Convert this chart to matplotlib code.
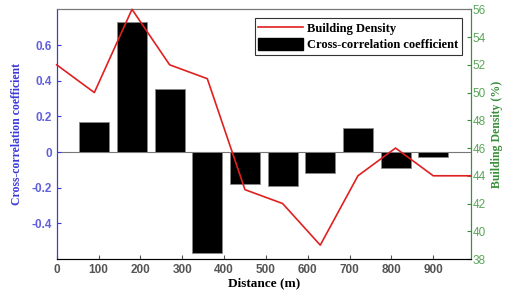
import matplotlib
matplotlib.use("Agg")
import matplotlib.pyplot as plt
from matplotlib.patches import Patch
from matplotlib.lines import Line2D

bar_x = [90, 180, 270, 360, 450, 540, 630, 720, 810, 900]
cross_corr = [0.17, 0.73, 0.355, -0.565, -0.18, -0.19, -0.115, 0.135, -0.088, -0.03]
line_x = [0, 90, 180, 270, 360, 450, 540, 630, 720, 810, 900, 990]
density = [52.0, 50.0, 56.0, 52.0, 51.0, 43.0, 42.0, 39.0, 44.0, 46.0, 44.0, 44.0]
x_ticks = [0, 100, 200, 300, 400, 500, 600, 700, 800, 900]
left_ticks = [-0.4, -0.2, 0, 0.2, 0.4, 0.6]
right_ticks = [38, 40, 42, 44, 46, 48, 50, 52, 54, 56]

blue = "#3a3ad8"
blue_tick = "#6060dd"
green = "#3a8f3a"
green_tick = "#5aa55a"

fig = plt.figure(figsize=(5.12, 2.92), dpi=100)
ax = fig.add_axes([0.1107, 0.113, 0.809, 0.855])
ax.bar(bar_x, cross_corr, width=72, color="black", edgecolor="#888888", linewidth=0.6, zorder=2)
ax.axhline(0, color="#777777", linewidth=0.8, zorder=1)
ax.set_xlim(0, 990)
ax.set_ylim(-0.6, 0.8)
ax.set_xticks(x_ticks)
ax.set_yticks(left_ticks)
ax.set_yticklabels(["-0.4", "-0.2", "0", "0.2", "0.4", "0.6"])
ax.tick_params(axis="y", direction="in", colors=blue, labelcolor=blue_tick, length=3,
               labelsize=8.5, right=True)
ax.tick_params(axis="x", direction="in", colors="#555555", labelcolor="#555555", length=3,
               labelsize=8.5)
for lab in ax.get_xticklabels() + ax.get_yticklabels():
    lab.set_fontfamily("Liberation Sans")
    lab.set_fontweight("bold")
ax.spines["left"].set_color(blue)
ax.spines["right"].set_color(green)
ax.spines["top"].set_color("#777777")
ax.spines["bottom"].set_color("#444444")
ax.set_xlabel("Distance (m)", fontfamily="Liberation Serif", fontweight="bold", fontsize=9.5,
              labelpad=1)
ax.set_ylabel("Cross-correlation coefficient", fontfamily="Liberation Serif", fontweight="bold",
              fontsize=8.5, color=blue, labelpad=6)

ax2 = ax.twinx()
ax2.plot(line_x, density, color="#e02020", linewidth=1.2, zorder=3, clip_on=False)
ax2.set_ylim(38, 56)
ax2.set_yticks(right_ticks)
ax2.tick_params(axis="y", direction="in", colors=green, labelcolor=green_tick, length=3,
                labelsize=8.5, pad=1)
for lab in ax2.get_yticklabels():
    lab.set_fontfamily("Liberation Sans")
ax2.spines["right"].set_color(green)
ax2.spines["left"].set_color(blue)
ax2.spines["top"].set_color("#777777")
ax2.set_ylabel("Building Density (%)", fontfamily="Liberation Serif", fontweight="bold",
               fontsize=8.5, color=green, labelpad=4)

handles = [Line2D([0], [0], color="#e02020", linewidth=1.2),
           Patch(facecolor="black", edgecolor="black")]
leg = ax2.legend(handles, ["Building Density", "Cross-correlation coefficient"],
                 loc="upper right", bbox_to_anchor=(0.985, 0.975),
                 prop={"family": "Liberation Serif", "weight": "bold", "size": 9},
                 fancybox=False, edgecolor="#333333", framealpha=1,
                 handlelength=3.6, handleheight=1.1, borderpad=0.3, labelspacing=0.25,
                 handletextpad=0.3, borderaxespad=0.2)
leg.get_frame().set_linewidth(0.8)

fig.savefig("out.png", dpi=100)
